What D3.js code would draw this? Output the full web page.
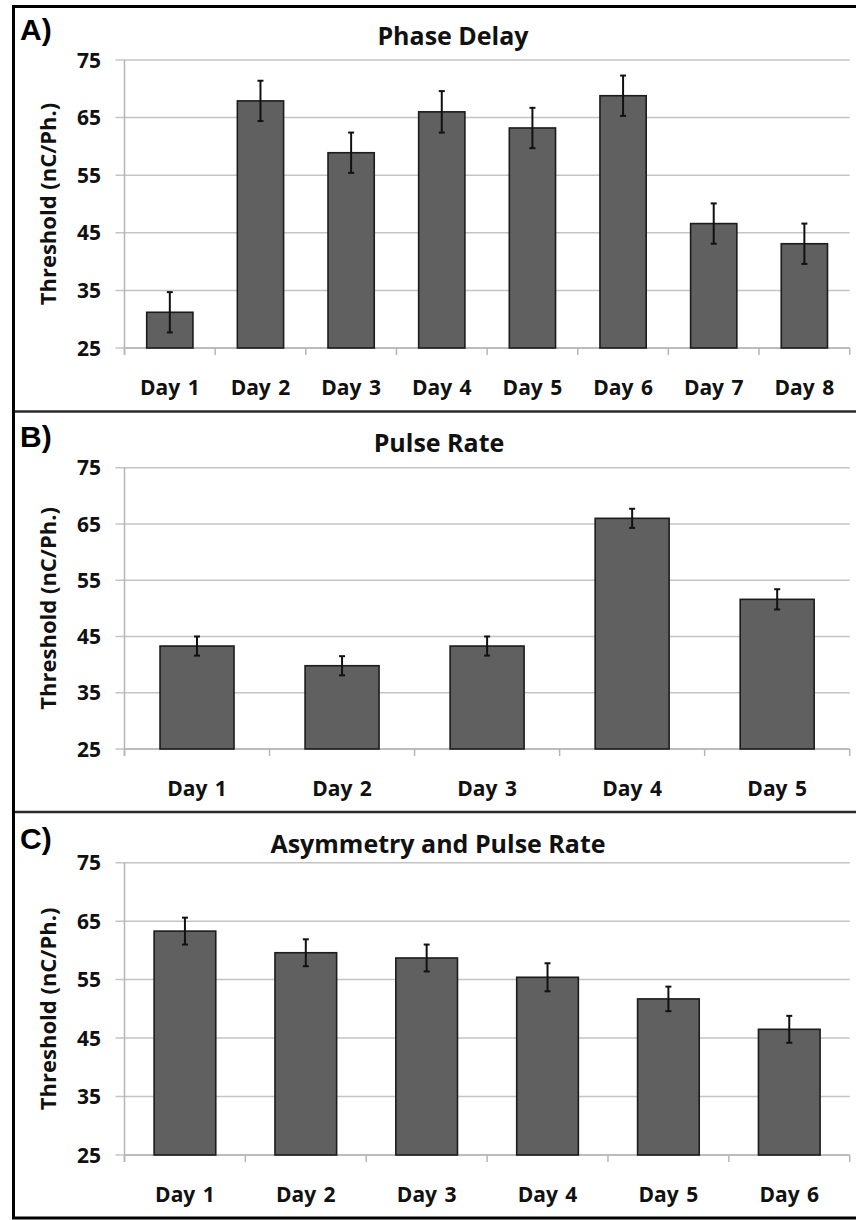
<!DOCTYPE html>
<html>
<head>
<meta charset="utf-8">
<script src="https://cdn.jsdelivr.net/npm/d3@7"></script>
<style>
  body { margin: 0; background: #fff; }
  svg { display: block; }
  text { font-family: 'Open Sans', sans-serif; font-weight: bold; fill: #111; }
</style>
</head>
<body>
<svg id="chart" width="856" height="1220"></svg>
<script>
const yTicks = [25, 35, 45, 55, 65, 75];

const phaseDays = ['Day 1', 'Day 2', 'Day 3', 'Day 4', 'Day 5', 'Day 6', 'Day 7', 'Day 8'];
const phaseValues = [31.2, 67.9, 58.9, 66.0, 63.2, 68.8, 46.6, 43.1];
const phaseErrors = [3.5, 3.5, 3.5, 3.6, 3.5, 3.5, 3.5, 3.5];

const pulseDays = ['Day 1', 'Day 2', 'Day 3', 'Day 4', 'Day 5'];
const pulseValues = [43.3, 39.8, 43.3, 66.0, 51.6];
const pulseErrors = [1.7, 1.7, 1.7, 1.7, 1.8];

const asymDays = ['Day 1', 'Day 2', 'Day 3', 'Day 4', 'Day 5', 'Day 6'];
const asymValues = [63.3, 59.6, 58.7, 55.4, 51.7, 46.5];
const asymErrors = [2.3, 2.3, 2.3, 2.4, 2.1, 2.3];

const svg = d3.select('#chart')

const left = 124.5, right = 849.7

// one panel of the figure
const drawPanel = (p) => {
    const g = svg.append('g')

    const x = d3.scaleBand().domain(p.days).range([left, right])
        .paddingInner(0.49).paddingOuter(0.245)
    const y = d3.scaleLinear().domain([25, 75]).range([p.bottom, p.top])
    const step = (right - left) / p.days.length

    // gridlines + y tick marks
    g.selectAll('.grid')
        .data(yTicks)
        .enter()
        .append('line')
        .attr('x1', left - 9)
        .attr('x2', right)
        .attr('y1', d => y(d))
        .attr('y2', d => y(d))
        .attr('stroke', '#c4c4c4')
        .attr('stroke-width', 1.5)

    // axes lines
    g.append('line')
        .attr('x1', left).attr('x2', left)
        .attr('y1', p.top).attr('y2', p.bottom + 7)
        .attr('stroke', '#b5b5b5').attr('stroke-width', 1.5)

    g.selectAll('.xtick')
        .data(d3.range(p.days.length + 1))
        .enter()
        .append('line')
        .attr('x1', i => left + i * step)
        .attr('x2', i => left + i * step)
        .attr('y1', p.bottom)
        .attr('y2', p.bottom + 7)
        .attr('stroke', '#b5b5b5')
        .attr('stroke-width', 1.5)

    g.append('line')
        .attr('x1', left).attr('x2', right)
        .attr('y1', p.bottom).attr('y2', p.bottom)
        .attr('stroke', '#b5b5b5').attr('stroke-width', 1.5)

    // bars
    g.selectAll('.bar')
        .data(p.values)
        .enter()
        .append('rect')
        .attr('x', (d, i) => x(p.days[i]))
        .attr('width', x.bandwidth())
        .attr('y', d => y(d))
        .attr('height', d => y(25) - y(d))
        .attr('fill', '#606060')
        .attr('stroke', '#1c1c1c')
        .attr('stroke-width', 1.6)

    // error bars
    const err = g.selectAll('.err')
        .data(p.values)
        .enter()
        .append('g')
        .attr('transform', (d, i) => 'translate(' + (x(p.days[i]) + x.bandwidth() / 2) + ',0)')

    err.append('line')
        .attr('y1', (d, i) => y(d + p.errors[i]))
        .attr('y2', (d, i) => y(d - p.errors[i]))
        .attr('stroke', '#111').attr('stroke-width', 2)

    err.append('line')
        .attr('x1', -3).attr('x2', 3)
        .attr('y1', (d, i) => y(d + p.errors[i]))
        .attr('y2', (d, i) => y(d + p.errors[i]))
        .attr('stroke', '#111').attr('stroke-width', 2)

    err.append('line')
        .attr('x1', -3).attr('x2', 3)
        .attr('y1', (d, i) => y(d - p.errors[i]))
        .attr('y2', (d, i) => y(d - p.errors[i]))
        .attr('stroke', '#111').attr('stroke-width', 2)

    // tick labels
    g.selectAll('.ylab')
        .data(yTicks)
        .enter()
        .append('text')
        .text(d => d)
        .attr('x', 101)
        .attr('y', d => y(d))
        .attr('dy', '0.36em')
        .attr('text-anchor', 'end')
        .style('font-size', '21px')

    g.selectAll('.xlab')
        .data(p.days)
        .enter()
        .append('text')
        .text(d => d)
        .attr('x', d => x(d) + x.bandwidth() / 2)
        .attr('y', p.bottom + 47)
        .attr('text-anchor', 'middle')
        .style('font-size', '21px')
        .style('word-spacing', '2px')

    g.append('text')
        .text('Threshold (nC/Ph.)')
        .attr('transform', 'translate(56,' + ((p.top + p.bottom) / 2) + ') rotate(-90)')
        .attr('text-anchor', 'middle')
        .style('font-size', '22px')

    g.append('text')
        .text(p.title)
        .attr('x', p.titleX)
        .attr('y', p.titleY)
        .attr('text-anchor', 'middle')
        .style('font-size', '25px')

    g.append('text')
        .text(p.label)
        .attr('x', 20)
        .attr('y', p.labelY)
        .style('font-family', "'Liberation Sans', Arial, sans-serif")
        .style('font-size', '30px')
        .style('fill', '#000')
}

drawPanel({ days: phaseDays, values: phaseValues, errors: phaseErrors,
    top: 60, bottom: 348, title: 'Phase Delay', titleX: 453, titleY: 45, label: 'A)', labelY: 40 })
drawPanel({ days: pulseDays, values: pulseValues, errors: pulseErrors,
    top: 467.7, bottom: 749, title: 'Pulse Rate', titleX: 439, titleY: 452, label: 'B)', labelY: 447 })
drawPanel({ days: asymDays, values: asymValues, errors: asymErrors,
    top: 862.7, bottom: 1155, title: 'Asymmetry and Pulse Rate', titleX: 438, titleY: 853, label: 'C)', labelY: 849 })

// panel dividers and outer frame
svg.append('line').attr('x1', 13).attr('x2', 856).attr('y1', 411.5).attr('y2', 411.5)
    .attr('stroke', '#2a2a2a').attr('stroke-width', 2.5)
svg.append('line').attr('x1', 13).attr('x2', 856).attr('y1', 812).attr('y2', 812)
    .attr('stroke', '#2a2a2a').attr('stroke-width', 2.5)
svg.append('rect')
    .attr('x', 13.5).attr('y', 6.5)
    .attr('width', 860).attr('height', 1211.5)
    .attr('fill', 'none')
    .attr('stroke', '#000')
    .attr('stroke-width', 3)
</script>
</body>
</html>
